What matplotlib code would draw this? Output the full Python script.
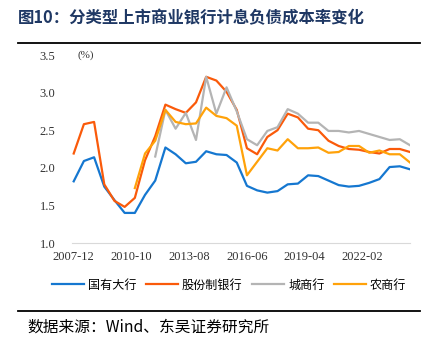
import numpy as np
import matplotlib.pyplot as plt
from matplotlib.lines import Line2D

plt.rcParams['font.family'] = ['Noto Sans CJK SC', 'DejaVu Sans']

# semi-annual observations, 2007-12 .. 2024-06 (months since 2007-12)
months = np.arange(34) * 6
tick_months = [0, 34, 68, 102, 136, 170]
tick_labels = ["2007-12", "2010-10", "2013-08", "2016-06", "2019-04", "2022-02"]

big4 = [1.82, 2.09, 2.14, 1.75, 1.57, 1.40, 1.40, 1.64, 1.83, 2.27, 2.18, 2.06,
        2.08, 2.22, 2.18, 2.17, 2.07, 1.76, 1.70, 1.67, 1.69, 1.78, 1.79, 1.90,
        1.89, 1.83, 1.77, 1.75, 1.76, 1.80, 1.85, 2.01, 2.02, 1.98]
joint = [2.19, 2.58, 2.61, 1.78, 1.56, 1.48, 1.60, 2.10, 2.42, 2.84, 2.78, 2.73,
         2.87, 3.21, 3.16, 3.01, 2.77, 2.26, 2.18, 2.41, 2.50, 2.72, 2.67, 2.52,
         2.50, 2.36, 2.29, 2.25, 2.24, 2.21, 2.19, 2.25, 2.25, 2.21]
city = [np.nan] * 8 + [2.15, 2.77, 2.52, 2.73, 2.37, 3.21, 2.72, 3.07, 2.75, 2.38,
                       2.30, 2.49, 2.54, 2.78, 2.72, 2.60, 2.60, 2.49, 2.49, 2.47,
                       2.49, 2.45, 2.41, 2.37, 2.38, 2.30]
rural = [np.nan] * 6 + [1.73, 2.19, 2.36, 2.77, 2.61, 2.58, 2.59, 2.80, 2.69, 2.66,
                        2.56, 1.90, 2.08, 2.26, 2.23, 2.38, 2.26, 2.26, 2.27, 2.20,
                        2.21, 2.29, 2.29, 2.20, 2.23, 2.18, 2.18, 2.07]

names = ["国有大行", "股份制银行", "城商行", "农商行"]
colors = ["#1577d0", "#fa5a0a", "#b4b4b4", "#ffa20a"]

W, H = 427, 353
fig = plt.figure(figsize=(W / 100, H / 100), dpi=100)
ax = fig.add_axes([72 / W, 1 - 243 / H, (410 - 72) / W, (243 - 55) / H])

for ys, c in zip([big4, joint, city, rural], colors):
    ax.plot(months, ys, color=c, lw=1.6)

ax.set_xlim(-1, 198)
ax.set_ylim(1.0, 3.5)
ax.set_yticks(np.arange(1.0, 3.51, 0.5))
ax.set_yticklabels([f"{v:.1f}" for v in np.arange(1.0, 3.51, 0.5)],
                   family="Liberation Serif", fontsize=9, color="#333333")
ax.set_xticks(tick_months)
ax.set_xticklabels(tick_labels, family="Liberation Serif", fontsize=9, color="#333333")
ax.tick_params(length=0)
ax.tick_params(axis="y", pad=12)
ax.tick_params(axis="x", pad=6)
for s in ["top", "right", "left"]:
    ax.spines[s].set_visible(False)
ax.spines["bottom"].set_color("#d9d9d9")
ax.text(0.015, 1.0, "(%)", transform=ax.transAxes, family="Liberation Serif",
        fontsize=8, va="center", ha="left", color="#333333")

handles = [Line2D([], [], color=c, lw=1.6) for c in colors]
fig.legend(handles, names, loc="center", bbox_to_anchor=(229 / W, 1 - 285 / H),
           ncol=4, frameon=False, fontsize=8.7, handlelength=2.65, handletextpad=0.33,
           columnspacing=0.8)

fig.text(18 / W, 1 - 18.5 / H, "图10：分类型上市商业银行计息负债成本率变化",
         fontsize=11.8, fontweight="bold", color="#1f3864", va="center", ha="left")
fig.add_artist(Line2D([18 / W, 420 / W], [1 - 42.5 / H] * 2, color="black", lw=1.3))
fig.add_artist(Line2D([18 / W, 420 / W], [1 - 311 / H] * 2, color="black", lw=1.3))
fig.text(27 / W, 1 - 327 / H, "数据来源：Wind、东吴证券研究所",
         fontsize=11.3, color="black", va="center", ha="left")

fig.savefig("out.png", dpi=100)
